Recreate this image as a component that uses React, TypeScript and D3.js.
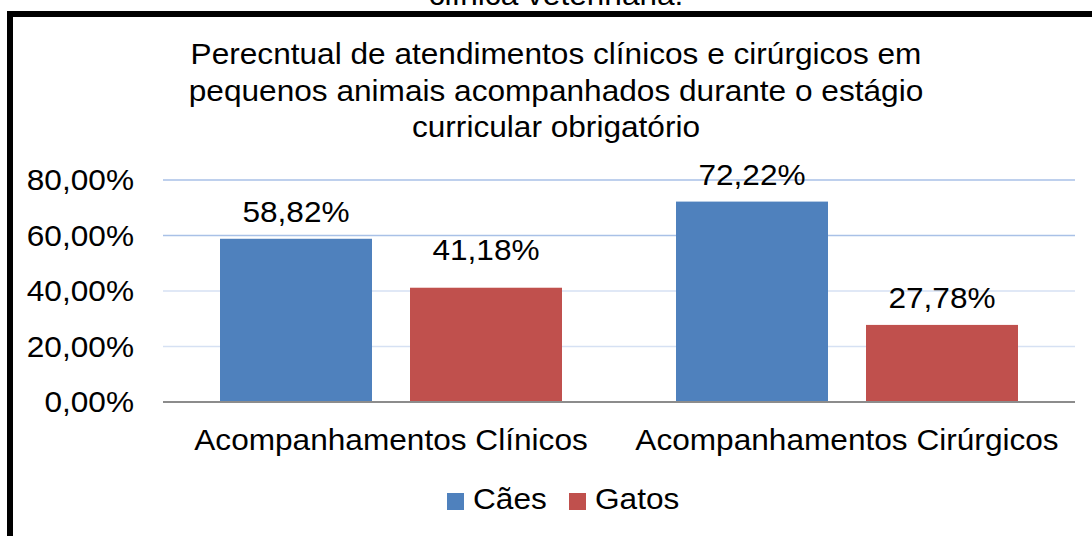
import React, { useEffect, useRef } from 'react';
import * as d3 from 'd3';

// data
const categories = ['Acompanhamentos Clínicos', 'Acompanhamentos Cirúrgicos'];
const seriesNames = ['Cães', 'Gatos'];
const caes = [58.82, 72.22];
const gatos = [41.18, 27.78];
const yTicks = [0, 20, 40, 60, 80];
const titleLines = [
  'Perecntual de atendimentos clínicos e cirúrgicos em',
  'pequenos animais acompanhados durante o estágio',
  'curricular obrigatório',
];
const cutTitle = 'clínica veterinária.';

const colors = ['#4f81bd', '#c0504d'];
const FONT = '"Liberation Sans", Arial, sans-serif';
const FS = 29;
const SX = 1.09;

export default function App() {
  const ref = useRef<SVGSVGElement>(null);

  useEffect(() => {
    const svg = d3.select(ref.current);
    svg.selectAll('*').remove();

    const W = 1092, H = 536;
    const plot = { left: 163, right: 1075, top: 180, bottom: 402 };

    // helper: text with the slight horizontal stretch of the original
    const txt = (g: any, s: string, x: number, y: number, anchor: string) =>
      g.append('text')
        .attr('transform', `translate(${x},${y}) scale(${SX},1)`)
        .attr('text-anchor', anchor)
        .attr('font-family', FONT)
        .attr('font-size', FS)
        .attr('fill', '#000')
        .text(s);

    // frame
    svg.append('rect')
      .attr('x', 10).attr('y', 14)
      .attr('width', W).attr('height', H)
      .attr('fill', '#fff')
      .attr('stroke', '#000')
      .attr('stroke-width', 6);

    // title of the page above, cut off
    txt(svg, cutTitle, 556, 5, 'middle');

    // chart title
    titleLines.forEach((l, i) => txt(svg, l, 556, 64 + i * 36.5, 'middle'));

    const y = d3.scaleLinear().domain([0, 80]).range([plot.bottom, plot.top]);
    const x0 = d3.scaleBand<string>().domain(categories).range([plot.left, plot.right]);
    const x1 = d3.scaleBand<string>()
      .domain(seriesNames)
      .range([57, x0.bandwidth() - 57])
      .paddingInner(0.2);

    // gridlines
    const gridCol = (t: number) => (t >= 60 ? '#a9c1e7' : '#d6e1f3');
    svg.append('g').selectAll('line')
      .data(yTicks.filter(t => t > 0))
      .enter().append('line')
      .attr('x1', plot.left).attr('x2', plot.right)
      .attr('y1', d => y(d)).attr('y2', d => y(d))
      .attr('stroke', d => gridCol(d))
      .attr('stroke-width', 1.5);

    // y tick labels
    const fmt = (v: number) => v.toFixed(2).replace('.', ',') + '%';
    yTicks.forEach(t => txt(svg, fmt(t), 134, y(t) + 10, 'end'));

    // bars
    const values = [caes, gatos];
    const labelNudge = [[0, 0], [11, 0]];
    seriesNames.forEach((s, si) => {
      const g = svg.append('g');
      g.selectAll('rect')
        .data(values[si])
        .enter().append('rect')
        .attr('x', (_d, i) => (x0(categories[i]) as number) + (x1(s) as number))
        .attr('y', d => y(d))
        .attr('width', x1.bandwidth())
        .attr('height', d => y(0) - y(d))
        .attr('fill', colors[si]);
      values[si].forEach((v, i) => {
        const cx = (x0(categories[i]) as number) + (x1(s) as number) + x1.bandwidth() / 2;
        txt(svg, fmt(v), cx, y(v) - 17 - labelNudge[si][i], 'middle');
      });
    });

    // x axis line
    svg.append('line')
      .attr('x1', plot.left).attr('x2', plot.right)
      .attr('y1', plot.bottom).attr('y2', plot.bottom)
      .attr('stroke', '#8c8c8c')
      .attr('stroke-width', 2);

    // category labels
    categories.forEach(c => txt(svg, c, (x0(c) as number) + x0.bandwidth() / 2, 450, 'middle'));

    // legend
    const legendX = [447, 569];
    seriesNames.forEach((s, i) => {
      svg.append('rect')
        .attr('x', legendX[i]).attr('y', 493)
        .attr('width', 17).attr('height', 17)
        .attr('fill', colors[i]);
      txt(svg, s, legendX[i] + 26, 509, 'start');
    });
  }, []);

  return (
    <svg
      ref={ref}
      width={1092}
      height={536}
      style={{ position: 'absolute', left: 0, top: 0, background: '#fff' }}
    />
  );
}
